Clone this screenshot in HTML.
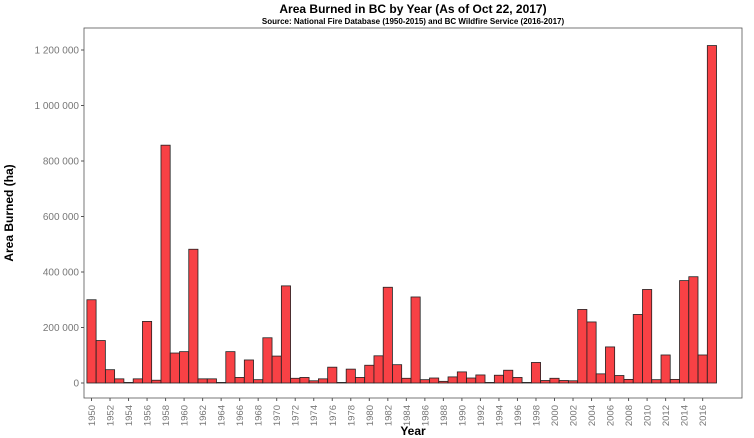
<!DOCTYPE html>
<html><head><meta charset="utf-8"><style>
body{margin:0;background:#fff;}
svg{display:block;font-family:"Liberation Sans",sans-serif;}
</style></head><body>
<svg id="chart" width="754" height="438">
<text x="413" y="13" text-anchor="middle" font-size="12" font-weight="bold">Area Burned in BC by Year (As of Oct 22, 2017)</text>
<text x="413" y="24" text-anchor="middle" font-size="8" font-weight="bold">Source: National Fire Database  (1950-2015) and BC Wildfire Service (2016-2017)</text>
<rect x="84" y="28" width="658" height="370" fill="none" stroke="#555" stroke-width="0.8"/>
<g id="yaxis"></g>
<g id="bars"></g>
<g id="xaxis"></g>
<text transform="translate(13,213) rotate(-90)" text-anchor="middle" font-size="12" font-weight="bold">Area Burned (ha)</text>
<text x="413" y="435" text-anchor="middle" font-size="12" font-weight="bold">Year</text>
</svg>
<script>
const years=[];for(let y=1950;y<=2017;y++)years.push(y);
const areas=[300000,153000,48000,15000,2000,15000,222000,10000,857000,108000,113000,482000,15000,15000,2000,113000,20000,83000,12000,163000,97000,350000,17000,20000,8000,15000,57000,2000,50000,20000,64000,98000,345000,66000,17000,310000,12000,18000,6000,22000,40000,18000,29000,2000,28000,46000,20000,2000,74000,9000,17000,9000,8000,265000,220000,33000,130000,27000,13000,247000,337000,12000,101000,13000,369000,383000,101000,1216000];
const yTicks=[0,200000,400000,600000,800000,1000000,1200000];
const yTickLabels=["0","200 000","400 000","600 000","800 000","1 000 000","1 200 000"];
const NS="http://www.w3.org/2000/svg";
const y0=383,pxPer=55.5/200000;
const yScale=v=>y0-v*pxPer;
const x0=91.5,step=9.26;
const xScale=yr=>x0+(yr-1950)*step;
const bars=document.getElementById('bars'),ya=document.getElementById('yaxis'),xa=document.getElementById('xaxis');
yTicks.forEach((t,i)=>{
 const y=yScale(t);
 const l=document.createElementNS(NS,'line');
 l.setAttribute('x1',81);l.setAttribute('x2',84);l.setAttribute('y1',y);l.setAttribute('y2',y);l.setAttribute('stroke','#555');
 
 
 ya.appendChild(l);
 const tx=document.createElementNS(NS,'text');
 tx.setAttribute('x',79);tx.setAttribute('y',y+3.5);tx.setAttribute('text-anchor','end');tx.setAttribute('font-size','10');tx.setAttribute('fill','#777');
 tx.textContent=yTickLabels[i];
 
 
 ya.appendChild(tx);
});
years.forEach((yr,i)=>{
 const cx=xScale(yr),top=yScale(areas[i]);
 const r=document.createElementNS(NS,'rect');
 r.setAttribute('x',cx-4.6);r.setAttribute('width',9.2);r.setAttribute('y',top);r.setAttribute('height',Math.max(y0-top,0.5));
 r.setAttribute('fill','#f84145');r.setAttribute('stroke','#222');r.setAttribute('stroke-width','0.8');
 
 
 bars.appendChild(r);
 if(yr%2===0&&yr<=2016){
  const l=document.createElementNS(NS,'line');
  l.setAttribute('x1',cx);l.setAttribute('x2',cx);l.setAttribute('y1',398);l.setAttribute('y2',401);l.setAttribute('stroke','#555');
  
  
  xa.appendChild(l);
  const tx=document.createElementNS(NS,'text');
  tx.setAttribute('transform','translate('+(cx+3.5)+',405) rotate(-90)');
  tx.setAttribute('text-anchor','end');tx.setAttribute('font-size','9.5');tx.setAttribute('fill','#777');
  tx.textContent=yr;
  
  
  xa.appendChild(tx);
 }
});
</script>
</body></html>
